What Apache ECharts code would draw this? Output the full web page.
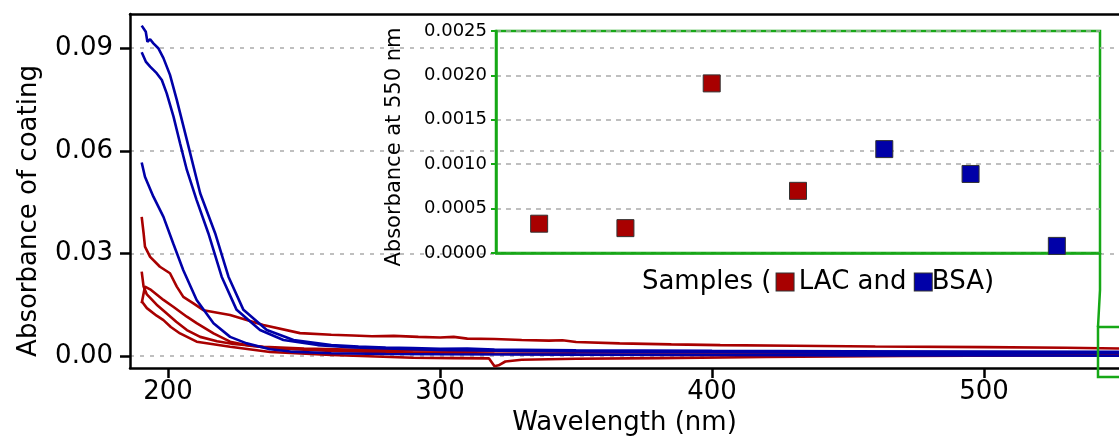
<!DOCTYPE html>
<html style="height: 100%;">
<head>
    <meta charset="UTF-8">
    <title></title>
    <script src="https://cdn.jsdelivr.net/npm/echarts@6/dist/echarts.min.js"></script>
</head>
<body style="height: 100%;margin: 0;background:#fff;">
	<div id="container" style="width:1119px;height:441px;"></div>
    <script type="text/javascript">
      	// spectra, [wavelength nm, absorbance]
      	var lac1 = [[190.3,0.0407],[191,0.0359],[191.5,0.0320],[193.4,0.0290],[197,0.0261],[200.7,0.0242],[203.2,0.0203],[205.6,0.0173],[209.3,0.0154],[213,0.0134],[222.8,0.0120],[235,0.0091],[248.5,0.0067],[260,0.0062],[268,0.0060],[275,0.0058],[283,0.0059],[292,0.0056],[300,0.0054],[305,0.0056],[310,0.0051],[320,0.0050],[330,0.0047],[340,0.0045],[345,0.0046],[350,0.0041],[366,0.0037],[385,0.0034],[403,0.0032],[430,0.0030],[460,0.0028],[500,0.0026],[530,0.0024],[550,0.0022]];
      	var lac2 = [[190.3,0.0247],[191,0.0203],[192.2,0.0180],[195.8,0.0150],[199,0.0128],[203,0.0100],[206.9,0.0076],[211.8,0.0056],[218,0.0043],[224,0.0035],[235,0.0027],[250,0.0022],[270,0.0018],[290,0.0016],[320,0.0015],[350,0.0013],[400,0.0011],[450,0.0009],[500,0.0008],[550,0.0007]];
      	var lac3 = [[190.3,0.0154],[191.5,0.0203],[193.4,0.0195],[195.8,0.0180],[198.3,0.0164],[201.9,0.0144],[206.9,0.0115],[210.5,0.0096],[216.7,0.0066],[222.8,0.0042],[230,0.0030],[240,0.0022],[260,0.0015],[290,0.0010],[320,0.0007],[350,0.0005],[400,0.0004],[450,0.0004],[500,0.0003],[550,0.0003]];
      	var lac4 = [[190.3,0.0160],[192.2,0.0140],[195.8,0.0118],[198.3,0.0105],[201,0.0085],[204.4,0.0066],[210.5,0.0042],[222.8,0.0027],[237.5,0.0012],[260,0.0003],[290,-0.0005],[305,-0.0006],[318,-0.0007],[320,-0.0030],[321.5,-0.0027],[324,-0.0016],[330,-0.0011],[350,-0.0008],[380,-0.0006],[420,-0.0003],[470,0.0000],[520,0.0002],[550,0.0003]];
      	var bsa1 = [[190.3,0.0966],[191.8,0.0948],[192.4,0.0919],[193.4,0.0926],[194.6,0.0914],[196.4,0.0900],[198.3,0.0871],[200.7,0.0822],[203.2,0.0749],[206.9,0.0632],[211.8,0.0476],[217.3,0.0359],[222.2,0.0232],[227.7,0.0135],[236.3,0.0076],[246.1,0.0047],[260,0.0032],[270,0.0028],[280,0.0025],[290,0.0023],[300,0.0021],[310,0.0022],[320,0.0019],[350,0.0017],[400,0.0015],[450,0.0014],[500,0.0013],[550,0.0012]];
      	var bsa2 = [[190.3,0.0888],[191.8,0.0861],[193.4,0.0846],[195.8,0.0827],[197.7,0.0807],[199.5,0.0768],[202,0.0700],[204.4,0.0622],[206.9,0.0544],[210.5,0.0456],[214.8,0.0359],[219.7,0.0232],[225.2,0.0135],[233.8,0.0076],[242.4,0.0047],[255,0.0032],[268,0.0025],[280,0.0022],[300,0.0018],[330,0.0015],[380,0.0012],[450,0.0010],[500,0.0009],[550,0.0009]];
      	var bsa3 = [[190.3,0.0566],[191.5,0.0524],[194.6,0.0466],[198.3,0.0407],[201.9,0.0329],[205.6,0.0251],[210.5,0.0164],[216.7,0.0096],[222.8,0.0056],[228.9,0.0037],[237.5,0.0020],[245,0.0013],[260,0.0008],[280,0.0006],[300,0.0005],[350,0.0004],[400,0.0003],[450,0.0002],[500,0.0002],[550,0.0001]];

      	// inset: absorbance at 550 nm
      	var samples = ['1','2','3','4','5','6','7'];
      	var lac550 = [0.00033, 0.00028, 0.00191, 0.00070, '-', '-', '-'];
      	var bsa550 = ['-', '-', '-', '-', 0.00117, 0.00089, 0.00008];

      	var xTicks = [200, 300, 400, 500];
      	var yTicks = [0, 0.03, 0.06, 0.09];

      	var RED = '#a80000', BLUE = '#0000a8', GREEN = '#16a816';
      	var FONT = 'DejaVu Sans';

      	var myChart = echarts.init(document.getElementById('container'));

      	function spectrum(data, color) {
      		return {
      			type: 'line', xAxisIndex: 0, yAxisIndex: 0,
      			data: data, showSymbol: false,
      			lineStyle: { color: color, width: 2.6 },
      			animation: false
      		};
      	}

      	var option = {
      		backgroundColor: '#fff',
      		textStyle: { fontFamily: FONT },
      		grid: [
      			{ left: 130, top: 14, right: 0, height: 354 },
      			{ left: 496, top: 31, width: 604, height: 222, show: true, borderColor: GREEN, borderWidth: 2.5, backgroundColor: 'transparent' }
      		],
      		xAxis: [
      			{
      				type: 'value', gridIndex: 0, min: 186, max: 549.6,
      				name: 'Wavelength (nm)', nameLocation: 'middle', nameGap: 42,
      				nameTextStyle: { fontSize: 26, color: '#000', fontFamily: FONT },
      				axisLine: { onZero: false, lineStyle: { color: '#000', width: 2.5 } },
      				axisTick: { show: true, length: 10, customValues: xTicks, lineStyle: { color: '#000', width: 2.5 } },
      				axisLabel: { customValues: xTicks, fontSize: 26, color: '#000', margin: 11, fontFamily: FONT },
      				splitLine: { show: false }
      			},
      			{
      				type: 'category', gridIndex: 1, data: samples, boundaryGap: true,
      				name: 'Samples (\u2009{r|}\u2009LAC and {b|}BSA)', nameLocation: 'middle', nameGap: 16,
      				nameTextStyle: {
      					fontSize: 26, color: '#000', fontFamily: FONT, padding: [0, 0, 0, 40],
      					rich: {
      						r: { width: 17, height: 17, backgroundColor: RED, borderColor: '#333', borderWidth: 1 },
      						b: { width: 17, height: 17, backgroundColor: BLUE, borderColor: '#333', borderWidth: 1 }
      					}
      				},
      				axisLine: { onZero: false, lineStyle: { color: GREEN, width: 2.5 } },
      				axisTick: { alignWithLabel: true, length: 7, lineStyle: { color: GREEN, width: 2 } },
      				axisLabel: { show: false },
      				splitLine: { show: false }
      			},
      			{
      				// top frame line of the main plot
      				type: 'value', gridIndex: 0, position: 'top', min: 186, max: 549.6,
      				axisLine: { show: true, onZero: false, lineStyle: { color: '#000', width: 2.5 } },
      				axisTick: { show: false }, axisLabel: { show: false }, splitLine: { show: false }
      			}
      		],
      		yAxis: [
      			{
      				type: 'value', gridIndex: 0, min: -0.0035, max: 0.1,
      				name: 'Absorbance of coating', nameLocation: 'middle', nameGap: 88,
      				nameTextStyle: { fontSize: 26, color: '#000', fontFamily: FONT, padding: [0, 40, 0, 0] },
      				axisLine: { show: true, onZero: false, lineStyle: { color: '#000', width: 2.5 } },
      				axisTick: { show: true, length: 10, customValues: yTicks, lineStyle: { color: '#000', width: 2.5 } },
      				axisLabel: { customValues: yTicks, fontSize: 26, color: '#000', margin: 17, fontFamily: FONT,
      					formatter: function (v) { return v.toFixed(2); } },
      				splitLine: { show: true, lineStyle: { color: '#aaa', width: 1.5, type: [4, 6] } }
      			},
      			{
      				type: 'value', gridIndex: 1, min: 0, max: 0.0025, interval: 0.0005,
      				name: 'Absorbance at 550 nm', nameLocation: 'middle', nameGap: 91,
      				nameTextStyle: { fontSize: 21, color: '#000', fontFamily: FONT, padding: [0, 10, 0, 0] },
      				axisLine: { show: true, onZero: false, lineStyle: { color: GREEN, width: 2.5 } },
      				axisTick: { show: true, length: 5, lineStyle: { color: GREEN, width: 2 } },
      				axisLabel: { fontSize: 18, color: '#000', margin: 9, fontFamily: FONT,
      					formatter: function (v) { return v.toFixed(4); } },
      				splitLine: { show: true, lineStyle: { color: '#aaa', width: 1.5, type: [5, 5] } }
      			}
      		],
      		series: [
      			spectrum(lac1, RED), spectrum(lac2, RED), spectrum(lac3, RED), spectrum(lac4, RED),
      			spectrum(bsa1, BLUE), spectrum(bsa2, BLUE), spectrum(bsa3, BLUE),
      			{
      				type: 'scatter', xAxisIndex: 1, yAxisIndex: 1, data: lac550,
      				symbol: 'rect', symbolSize: 17, z: 5,
      				itemStyle: { color: RED, borderColor: '#333', borderWidth: 1, opacity: 1 }
      			},
      			{
      				type: 'scatter', xAxisIndex: 1, yAxisIndex: 1, data: bsa550,
      				symbol: 'rect', symbolSize: 17, z: 5,
      				itemStyle: { color: BLUE, borderColor: '#333', borderWidth: 1, opacity: 1 }
      			}
      		],
      		graphic: [
      			// zoom connector to the inset
      			{ type: 'polyline', shape: { points: [[1100, 253], [1100, 290], [1098, 327]] }, style: { stroke: GREEN, lineWidth: 2.5, fill: null }, z: 10 },
      			{ type: 'rect', shape: { x: 1098, y: 327, width: 40, height: 50 }, style: { stroke: GREEN, lineWidth: 2.5, fill: null }, z: 10 }
      		],
      		animation: false
      	};
      	myChart.setOption(option);
    </script>
</body>
</html>
